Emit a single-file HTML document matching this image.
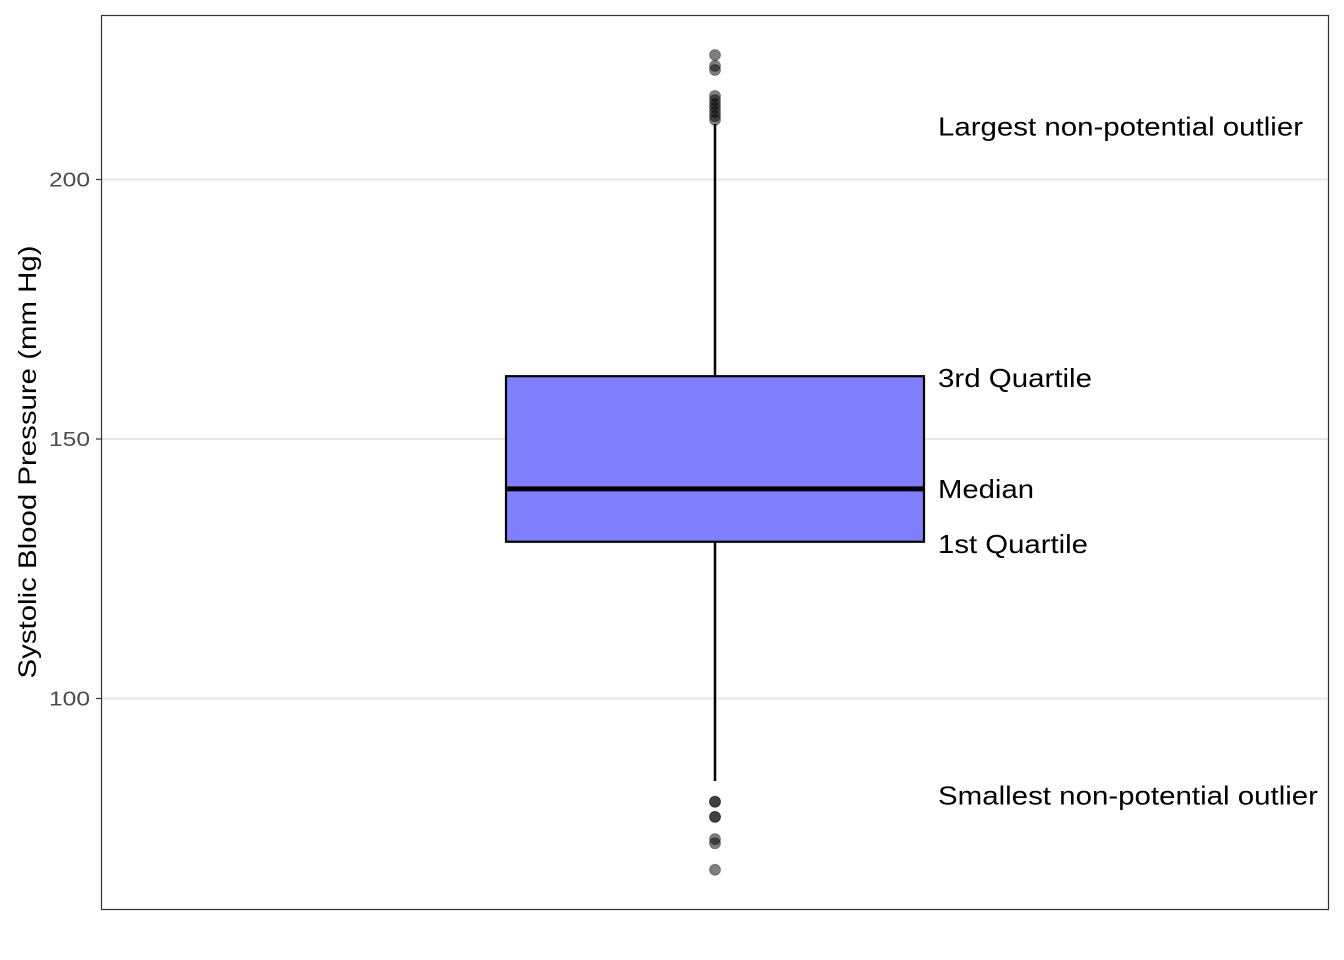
<!DOCTYPE html>
<html><head><meta charset="utf-8"><style>
body{margin:0;background:#fff;}
svg{display:block;font-family:"Liberation Sans",Arial,sans-serif;}
</style></head><body>
<svg width="1344" height="960">
<g id="grid"></g>
<g id="plot"></g>
<rect x="101.5" y="15.5" width="1227" height="894" fill="none" stroke="#333" stroke-width="1.2"/>
<g id="yaxis"></g>
<text x="36" y="462" transform="rotate(-90 36 462)" text-anchor="middle" font-size="25" textLength="433" lengthAdjust="spacingAndGlyphs" fill="#000">Systolic Blood Pressure (mm Hg)</text>
<g id="ann"></g>
</svg>
<script>
const ticks=[100,150,200];
const stats=[130.2,140.4,162.1];
const whiskers=[84.1,210.7];
const outliers=[224,221.9,221.1,216.1,215.3,214.5,213.8,213,212.2,211.5,80.1,80.1,77.2,77.2,72.9,72.1,67.0];
const labels=["Largest non-potential outlier","3rd Quartile","Median","1st Quartile","Smallest non-potential outlier"];
const labelVals=[209.6,161.2,139.8,129.2,80.7];
const labelW=[365,154,96,150,380];
const y=v=>439-(v-150)*5.19;
const NS="http://www.w3.org/2000/svg";
function mk(p,t,a){const e=document.createElementNS(NS,t);for(const k in a)e.setAttribute(k,a[k]);document.getElementById(p).appendChild(e);return e;}
ticks.forEach(t=>{
 const l=mk('grid','line',{x1:101,x2:1328,y1:y(t),y2:y(t),stroke:'#e5e5e5','stroke-width':2});
 
 
 const tk=mk('yaxis','line',{x1:96,x2:101,y1:y(t),y2:y(t),stroke:'#333','stroke-width':1.2});
 
 
 const tx=mk('yaxis','text',{x:90,y:y(t)+7,'text-anchor':'end','font-size':20,textLength:41,lengthAdjust:'spacingAndGlyphs',fill:'#4d4d4d'});
 tx.textContent=t;
 
 
});
const cx=715,x0=506,x1=924;
const w1=mk('plot','line',{x1:cx,x2:cx,y1:y(stats[2]),y2:y(whiskers[1]),stroke:'#000','stroke-width':2.5});


const w2=mk('plot','line',{x1:cx,x2:cx,y1:y(stats[0]),y2:y(whiskers[0]),stroke:'#000','stroke-width':2.5});


const b=mk('plot','rect',{x:x0,y:y(stats[2]),width:x1-x0,height:y(stats[0])-y(stats[2]),fill:'#8080ff',stroke:'#000','stroke-width':2.2});


const m=mk('plot','line',{x1:x0,x2:x1,y1:y(stats[1]),y2:y(stats[1]),stroke:'#000','stroke-width':5});


outliers.forEach((v,i)=>{
 const c=mk('plot','circle',{cx:cx,cy:y(v),r:5.5,fill:'rgba(0,0,0,0.5)',stroke:'rgba(0,0,0,0.3)','stroke-width':1});
 
 
});
labels.forEach((s,i)=>{
 const t=mk('ann','text',{x:938,y:y(labelVals[i])+6,'font-size':26,textLength:labelW[i],lengthAdjust:'spacingAndGlyphs',fill:'#000'});
 t.textContent=s;
 
 
});
</script>
</body></html>
